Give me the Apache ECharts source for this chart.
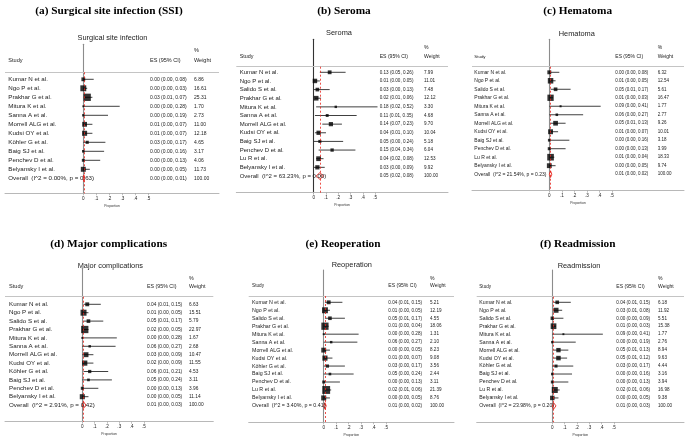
<!DOCTYPE html>
<html>
<head>
<meta charset="utf-8">
<script src="https://cdn.jsdelivr.net/npm/echarts@6/dist/echarts.min.js"></script>
<style>
  html, body { margin: 0; padding: 0; background: #fff; }
  #main { width: 685px; height: 438px; }
</style>
</head>
<body>
<div id="main"></div>
<script>
// ---- data ----
const ssiStudies = ['Kumar N et al.', 'Ngo P et al.', 'Prakhar G et al.', 'Mitura K et al.', 'Sanna A et al.', 'Morrell ALG et al.', 'Kudsi OY et al.', 'Köhler G et al.', 'Baig SJ et al.', 'Penchev D et al.', 'Belyansky I et al.'];
const ssiEs = [0.00, 0.00, 0.03, 0.00, 0.00, 0.01, 0.01, 0.03, 0.00, 0.00, 0.00];
const ssiLow = [0.00, 0.00, 0.01, 0.00, 0.00, 0.00, 0.00, 0.00, 0.00, 0.00, 0.00];
const ssiHigh = [0.08, 0.03, 0.07, 0.28, 0.19, 0.07, 0.07, 0.17, 0.16, 0.13, 0.05];
const ssiWeight = [6.86, 16.61, 25.31, 1.70, 2.73, 11.00, 12.18, 4.65, 3.17, 4.06, 11.73];
const ssiOverall = [0.004, 0.00, 0.01];
const ssiHet = ['0.00', '0.63'];

const seromaStudies = ['Kumar N et al.', 'Ngo P et al.', 'Salido S et al.', 'Prakhar G et al.', 'Mitura K et al.', 'Sanna A et al.', 'Morrell ALG et al.', 'Kudsi OY et al.', 'Baig SJ et al.', 'Penchev D et al.', 'Lu R et al.', 'Belyansky I et al.'];
const seromaEs = [0.13, 0.01, 0.03, 0.02, 0.18, 0.11, 0.14, 0.04, 0.05, 0.15, 0.04, 0.03];
const seromaLow = [0.05, 0.00, 0.00, 0.01, 0.02, 0.01, 0.07, 0.01, 0.00, 0.04, 0.02, 0.00];
const seromaHigh = [0.26, 0.05, 0.13, 0.06, 0.52, 0.35, 0.23, 0.10, 0.24, 0.34, 0.08, 0.09];
const seromaWeight = [7.99, 11.01, 7.48, 12.12, 3.30, 4.68, 9.70, 10.04, 5.18, 6.04, 12.53, 9.92];
const seromaOverall = [0.05, 0.02, 0.08];
const seromaHet = ['63.23', '0.00'];

const hematomaStudies = ['Kumar N et al.', 'Ngo P et al.', 'Salido S et al.', 'Prakhar G et al.', 'Mitura K et al.', 'Sanna A et al.', 'Morrell ALG et al.', 'Kudsi OY et al.', 'Baig SJ et al.', 'Penchev D et al.', 'Lu R et al.', 'Belyansky I et al.'];
const hematomaEs = [0.00, 0.01, 0.05, 0.01, 0.09, 0.06, 0.05, 0.01, 0.00, 0.00, 0.01, 0.00];
const hematomaLow = [0.00, 0.00, 0.01, 0.00, 0.00, 0.00, 0.01, 0.00, 0.00, 0.00, 0.00, 0.00];
const hematomaHigh = [0.08, 0.05, 0.17, 0.03, 0.41, 0.27, 0.13, 0.07, 0.16, 0.13, 0.04, 0.05];
const hematomaWeight = [6.32, 12.54, 5.61, 16.47, 1.77, 2.77, 9.26, 10.01, 3.18, 3.99, 18.33, 9.74];
const hematomaOverall = [0.01, 0.00, 0.02];
const hematomaHet = ['21.54', '0.23'];

const majorStudies = ['Kumar N et al.', 'Ngo P et al.', 'Salido S et al.', 'Prakhar G et al.', 'Mitura K et al.', 'Sanna A et al.', 'Morrell ALG et al.', 'Kudsi OY et al.', 'Köhler G et al.', 'Baig SJ et al.', 'Penchev D et al.', 'Belyansky I et al.'];
const majorEs = [0.04, 0.01, 0.05, 0.02, 0.00, 0.06, 0.03, 0.02, 0.06, 0.05, 0.00, 0.00];
const majorLow = [0.01, 0.00, 0.01, 0.00, 0.00, 0.00, 0.00, 0.00, 0.01, 0.00, 0.00, 0.00];
const majorHigh = [0.15, 0.05, 0.17, 0.05, 0.28, 0.27, 0.09, 0.09, 0.21, 0.24, 0.13, 0.05];
const majorWeight = [6.63, 15.51, 5.79, 22.97, 1.67, 2.68, 10.47, 11.55, 4.53, 3.11, 3.96, 11.14];
const majorOverall = [0.01, 0.00, 0.03];
const majorHet = ['2.91', '0.42'];

const reopStudies = ['Kumar N et al.', 'Ngo P et al.', 'Salido S et al.', 'Prakhar G et al.', 'Mitura K et al.', 'Sanna A et al.', 'Morrell ALG et al.', 'Kudsi OY et al.', 'Köhler G et al.', 'Baig SJ et al.', 'Penchev D et al.', 'Lu R et al.', 'Belyansky I et al.'];
const reopEs = [0.04, 0.01, 0.05, 0.01, 0.00, 0.06, 0.00, 0.01, 0.03, 0.05, 0.00, 0.02, 0.00];
const reopLow = [0.01, 0.00, 0.01, 0.00, 0.00, 0.00, 0.00, 0.00, 0.00, 0.00, 0.00, 0.01, 0.00];
const reopHigh = [0.15, 0.05, 0.17, 0.04, 0.28, 0.27, 0.05, 0.07, 0.17, 0.24, 0.13, 0.06, 0.05];
const reopWeight = [5.21, 12.19, 4.55, 18.06, 1.31, 2.10, 8.23, 9.08, 3.56, 2.44, 3.11, 21.39, 8.76];
const reopOverall = [0.01, 0.00, 0.02];
const reopHet = ['3.40', '0.41'];

const readmStudies = ['Kumar N et al.', 'Ngo P et al.', 'Salido S et al.', 'Prakhar G et al.', 'Mitura K et al.', 'Sanna A et al.', 'Morrell ALG et al.', 'Kudsi OY et al.', 'Köhler G et al.', 'Baig SJ et al.', 'Penchev D et al.', 'Lu R et al.', 'Belyansky I et al.'];
const readmEs = [0.04, 0.03, 0.00, 0.01, 0.09, 0.00, 0.05, 0.05, 0.03, 0.00, 0.00, 0.02, 0.00];
const readmLow = [0.01, 0.01, 0.00, 0.00, 0.00, 0.00, 0.01, 0.01, 0.00, 0.00, 0.00, 0.01, 0.00];
const readmHigh = [0.15, 0.08, 0.09, 0.03, 0.41, 0.19, 0.13, 0.12, 0.17, 0.16, 0.13, 0.06, 0.05];
const readmWeight = [6.18, 11.92, 5.51, 15.38, 1.77, 2.76, 8.94, 9.63, 4.44, 3.16, 3.94, 16.98, 9.38];
const readmOverall = [0.01, 0.00, 0.03];
const readmHet = ['23.98', '0.20'];

const tickValues = [0, 0.1, 0.2, 0.3, 0.4, 0.5];

const panelTitles = ['(a) Surgical site infection (SSI)', '(b) Seroma', '(c) Hematoma', '(d) Major complications', '(e) Reoperation', '(f) Readmission'];
const plotTitles = ['Surgical site infection', 'Seroma', 'Hematoma', 'Major complications', 'Reoperation', 'Readmission'];

// ---- layout (pixels) ----
const layout = [
  {lineL: 5, lineR: 219, zeroX: 83.3, px01: 13.0, vTop: 44.3, headY: 60.7, pctY: 50, lineY: 72.3, axisY: 193.3, row0: 79.3, step: 9.0, studyX: 8.3, esX: 150, wX: 194, title: [109, 11], sub: [112.5, 37.7], nameFs: 6.2, numFs: 5.0, box: 1.45, vColor: '#8c8c8c'},
  {lineL: 236.3, lineR: 448, zeroX: 313.7, px01: 12.27, vTop: 39.3, headY: 57, pctY: 48, lineY: 66.7, axisY: 192.7, row0: 72.3, step: 8.64, studyX: 239.7, esX: 379.7, wX: 424, title: [344, 11], sub: [339, 33.3], nameFs: 6.0, numFs: 4.6, box: 1.35, vColor: '#333'},
  {lineL: 472, lineR: 684, zeroX: 549.3, px01: 12.53, vTop: 39.3, headY: 56.7, pctY: 47.7, lineY: 66.7, axisY: 190.7, row0: 72.3, step: 8.49, studyX: 474.3, esX: 615.3, wX: 657.7, title: [577.7, 11], sub: [576.8, 33.5], nameFs: 5.0, numFs: 4.5, box: 1.55, vColor: '#8c8c8c'},
  {lineL: 5, lineR: 213.3, zeroX: 82.3, px01: 12.33, vTop: 268.3, headY: 286.7, pctY: 279, lineY: 296.7, axisY: 421.7, row0: 304.3, step: 8.4, studyX: 9, esX: 147, wX: 189, title: [108.7, 244.3], sub: [110.3, 265.7], nameFs: 6.2, numFs: 4.8, box: 1.52, vColor: '#8c8c8c'},
  {lineL: 248.7, lineR: 454, zeroX: 323.7, px01: 12.47, vTop: 270, headY: 286, pctY: 278.3, lineY: 296, axisY: 422.3, row0: 302.3, step: 7.97, studyX: 252, esX: 388.3, wX: 430, title: [343, 244.3], sub: [351.8, 265], nameFs: 5.3, numFs: 4.6, box: 1.7, vColor: '#8c8c8c'},
  {lineL: 476.7, lineR: 684, zeroX: 552.3, px01: 12.33, vTop: 270, headY: 286.7, pctY: 278.3, lineY: 296.7, axisY: 422.3, row0: 302.3, step: 7.97, studyX: 479.3, esX: 616.3, wX: 658, title: [577.7, 244.3], sub: [579, 265.7], nameFs: 5.2, numFs: 4.6, box: 1.46, vColor: '#8c8c8c'}
];

const panels = [
  {studies: ssiStudies, es: ssiEs, lo: ssiLow, hi: ssiHigh, w: ssiWeight, overall: ssiOverall, het: ssiHet},
  {studies: seromaStudies, es: seromaEs, lo: seromaLow, hi: seromaHigh, w: seromaWeight, overall: seromaOverall, het: seromaHet},
  {studies: hematomaStudies, es: hematomaEs, lo: hematomaLow, hi: hematomaHigh, w: hematomaWeight, overall: hematomaOverall, het: hematomaHet},
  {studies: majorStudies, es: majorEs, lo: majorLow, hi: majorHigh, w: majorWeight, overall: majorOverall, het: majorHet},
  {studies: reopStudies, es: reopEs, lo: reopLow, hi: reopHigh, w: reopWeight, overall: reopOverall, het: reopHet},
  {studies: readmStudies, es: readmEs, lo: readmLow, hi: readmHigh, w: readmWeight, overall: readmOverall, het: readmHet}
];

const SANS = '"Liberation Sans", Arial, sans-serif';
const SERIF = '"Liberation Serif", "Times New Roman", serif';
const RED = '#e8231b';

function ciText(e, l, h) {
  return e.toFixed(2) + ' (' + l.toFixed(2) + ', ' + h.toFixed(2) + ')';
}

let grids = [], xAxes = [], yAxes = [], series = [], graphics = [];

panels.forEach(function (P, k) {
  const L = layout[k];
  const n = P.studies.length;
  const yMin = (L.vTop - L.row0) / L.step;
  const yMax = (L.axisY - L.row0) / L.step;
  const headVal = (L.lineY - L.row0) / L.step;

  grids.push({left: L.lineL, top: L.vTop, width: L.lineR - L.lineL, height: L.axisY - L.vTop});

  xAxes.push({
    type: 'value', gridIndex: k,
    min: (L.lineL - L.zeroX) / L.px01 * 0.1,
    max: (L.lineR - L.zeroX) / L.px01 * 0.1,
    axisLine: {onZero: false, lineStyle: {color: '#b8b8b8', width: 1}},
    axisTick: {show: true, customValues: tickValues, length: 2, lineStyle: {color: '#999', width: 0.6}},
    axisLabel: {
      customValues: tickValues, margin: 3, fontSize: 4.6, color: '#222', fontFamily: SANS,
      formatter: function (v) {
        if (v < -1e-6 || v > 0.5001) return '';
        return v === 0 ? '0' : '.' + Math.round(v * 10);
      }
    },
    splitLine: {show: false},
    name: 'Proportion', nameLocation: 'middle', nameGap: 11,
    nameTextStyle: {fontSize: 3.4, color: '#333', fontFamily: SANS}
  });

  yAxes.push({
    type: 'value', gridIndex: k, inverse: true, min: yMin, max: yMax,
    axisLine: {show: true, onZero: true, lineStyle: {color: L.vColor, width: 1.1}},
    axisTick: {show: false}, axisLabel: {show: false}, splitLine: {show: false}
  });

  // confidence intervals
  series.push({
    type: 'custom', xAxisIndex: k, yAxisIndex: k, z: 2, silent: true,
    data: P.studies.map(function (s, i) { return [P.lo[i], P.hi[i], i]; }),
    encode: {x: [0, 1], y: 2},
    renderItem: function (params, api) {
      const a = api.coord([api.value(0), api.value(2)]);
      const b = api.coord([api.value(1), api.value(2)]);
      return {type: 'line', shape: {x1: a[0], y1: a[1], x2: b[0], y2: b[1]}, style: {stroke: '#2a2a2a', lineWidth: 0.9}};
    }
  });

  // study estimates, boxes scaled by weight
  series.push({
    type: 'scatter', xAxisIndex: k, yAxisIndex: k, z: 3, silent: true,
    symbol: 'rect',
    symbolSize: function (v) { return L.box * Math.sqrt(v[2]); },
    itemStyle: {color: '#000'},
    data: P.studies.map(function (s, i) { return [P.es[i], i, P.w[i]]; }),
    markLine: {
      silent: true, symbol: 'none', label: {show: false}, animation: false,
      data: [
        {yAxis: headVal, lineStyle: {color: '#c4c4c4', type: 'solid', width: 1}},
        [{coord: [P.overall[0], headVal], lineStyle: {color: RED, type: [2, 2], width: 0.8}},
         {coord: [P.overall[0], yMax]}]
      ]
    }
  });

  // overall diamond
  series.push({
    type: 'custom', xAxisIndex: k, yAxisIndex: k, z: 4, silent: true,
    data: [[P.overall[0], P.overall[1], P.overall[2], n]],
    encode: {x: [0, 1, 2], y: 3},
    renderItem: function (params, api) {
      const row = api.value(3);
      const c = api.coord([api.value(0), row]);
      const l = api.coord([api.value(1), row]);
      const r = api.coord([api.value(2), row]);
      const h = 3.3;
      return {
        type: 'polygon',
        shape: {points: [[l[0], c[1]], [c[0], c[1] - h], [r[0], c[1]], [c[0], c[1] + h]]},
        style: {fill: 'rgba(255,255,255,0.85)', stroke: RED, lineWidth: 0.9}
      };
    }
  });

  // table text: study, ES (95% CI), weight
  const names = P.studies.concat(['Overall  (I^2 = ' + P.het[0] + '%, p = ' + P.het[1] + ')']);
  const esTexts = P.studies.map(function (s, i) { return ciText(P.es[i], P.lo[i], P.hi[i]); })
    .concat([ciText(P.overall[0], P.overall[1], P.overall[2])]);
  const wTexts = P.w.map(function (v) { return v.toFixed(2); }).concat(['100.00']);
  series.push({
    type: 'custom', xAxisIndex: k, yAxisIndex: k, z: 5, silent: true,
    data: names.map(function (s, i) { return [0, i]; }),
    encode: {x: 0, y: 1},
    renderItem: function (params, api) {
      const i = params.dataIndex;
      const y = api.coord([0, api.value(1)])[1];
      return {
        type: 'group',
        children: [
          {type: 'text', x: L.studyX, y: y, style: {text: names[i], fill: '#222', fontSize: L.nameFs, fontFamily: SANS, align: 'left', verticalAlign: 'middle'}},
          {type: 'text', x: L.esX, y: y, style: {text: esTexts[i], fill: '#222', fontSize: L.numFs, fontFamily: SANS, align: 'left', verticalAlign: 'middle'}},
          {type: 'text', x: L.wX, y: y, style: {text: wTexts[i], fill: '#222', fontSize: L.numFs, fontFamily: SANS, align: 'left', verticalAlign: 'middle'}}
        ]
      };
    }
  });

  // titles and column headers
  function txt(x, y, text, size, family, weight, align, color) {
    graphics.push({
      type: 'text', x: x, y: y, silent: true,
      style: {text: text, fontSize: size, fontFamily: family, fontWeight: weight || 'normal', fill: color || '#222',
              align: align || 'left', verticalAlign: 'middle', textAlign: align || 'left', textVerticalAlign: 'middle'}
    });
  }
  txt(L.title[0], L.title[1], panelTitles[k], 11.3, SERIF, 'bold', 'center', '#000');
  txt(L.sub[0], L.sub[1], plotTitles[k], 7.4, SANS, 'normal', 'center', '#222');
  txt(L.studyX, L.headY, 'Study', L.nameFs - 0.6, SANS);
  txt(L.esX, L.headY, 'ES (95% CI)', L.numFs + 0.5, SANS);
  txt(L.wX, L.pctY, '%', L.numFs + 0.5, SANS);
  txt(L.wX, L.headY, 'Weight', L.numFs + 0.5, SANS);
});

const chart = echarts.init(document.getElementById('main'), null, {renderer: 'canvas'});
chart.setOption({
  backgroundColor: '#fff',
  animation: false,
  grid: grids,
  xAxis: xAxes,
  yAxis: yAxes,
  series: series,
  graphic: graphics
});
</script>
</body>
</html>
